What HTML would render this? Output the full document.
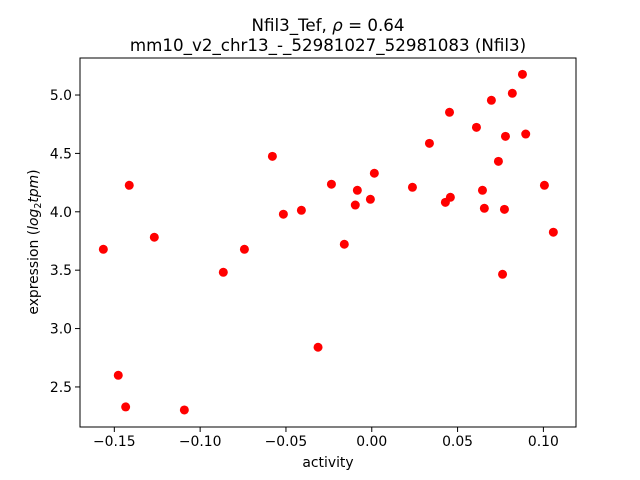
<!DOCTYPE html>
<html><head><meta charset="utf-8"><style>body{margin:0;background:#fff}svg{display:block;font-family:"DejaVu Sans","Liberation Sans",sans-serif}</style></head>
<body>
<svg id="chart" width="640" height="480">
<rect width="640" height="480" fill="#fff"/>
<text x="328" y="31" text-anchor="middle" font-size="16.7">Nfil3_Tef, <tspan font-style="italic">ρ</tspan> = 0.64</text>
<text x="328" y="51" text-anchor="middle" font-size="16.7">mm10_v2_chr13_-_52981027_52981083 (Nfil3)</text>
<g id="ticks"></g>
<g id="points"></g>
<rect x="80" y="58" width="496" height="369" fill="none" stroke="#000" stroke-width="1"/>
<text x="328" y="467" text-anchor="middle" font-size="13.9">activity</text>
<text transform="translate(38,242) rotate(-90)" text-anchor="middle" font-size="13.9">expression (<tspan font-style="italic">log</tspan><tspan font-size="9.5" dy="3">2</tspan><tspan dy="-3" font-style="italic">tpm</tspan>)</text>
</svg>
<script>
const activity=[-0.1564,-0.1413,-0.1267,-0.1477,-0.1434,-0.1092,-0.0865,-0.0742,-0.0579,-0.0515,-0.0410,-0.0313,-0.0235,-0.0160,-0.0096,-0.0084,-0.0008,0.0015,0.0237,0.0336,0.0429,0.0458,0.0453,0.0610,0.0645,0.0656,0.0697,0.0738,0.0762,0.0773,0.0779,0.0819,0.0878,0.0897,0.1006,0.1058];
const expression=[3.679,4.227,3.782,2.600,2.329,2.303,3.482,3.679,4.475,3.979,4.013,2.840,4.236,3.722,4.058,4.184,4.107,4.330,4.210,4.586,4.081,4.124,4.852,4.723,4.184,4.030,4.955,4.432,3.465,4.021,4.646,5.015,5.177,4.666,4.227,3.825];
const xTicks=[-0.15,-0.10,-0.05,0.00,0.05,0.10];
const xTickLabels=["−0.15","−0.10","−0.05","0.00","0.05","0.10"];
const yTicks=[2.5,3.0,3.5,4.0,4.5,5.0];
const yTickLabels=["2.5","3.0","3.5","4.0","4.5","5.0"];
const NS="http://www.w3.org/2000/svg";
const X0=80,X1=576,Y0=58,Y1=427,xmin=-0.170,xmax=0.119,ymin=2.157,ymax=5.317;
const sx=v=>X0+(v-xmin)/(xmax-xmin)*(X1-X0);
const sy=v=>Y1-(v-ymin)/(ymax-ymin)*(Y1-Y0);
function mk(t,a){const e=document.createElementNS(NS,t);for(const k in a)e.setAttribute(k,a[k]);return e;}
const tg=document.getElementById('ticks');
xTicks.forEach((v,i)=>{const x=sx(v);
const l=mk('line',{x1:x,x2:x,y1:427,y2:432,stroke:'#000'});


tg.appendChild(l);
const t=mk('text',{x:x,y:446,'text-anchor':'middle','font-size':'13.9'});t.textContent=xTickLabels[i];


tg.appendChild(t);});
yTicks.forEach((v,i)=>{const y=sy(v);
const l=mk('line',{x1:75,x2:80,y1:y,y2:y,stroke:'#000'});


tg.appendChild(l);
const t=mk('text',{x:72,y:y+5,'text-anchor':'end','font-size':'13.9'});t.textContent=yTickLabels[i];


tg.appendChild(t);});
const pg=document.getElementById('points');
activity.forEach((a,i)=>{const c=mk('circle',{cx:sx(a),cy:sy(expression[i]),r:4.5,fill:'#ff0000'});


pg.appendChild(c);});
</script>
</body></html>
